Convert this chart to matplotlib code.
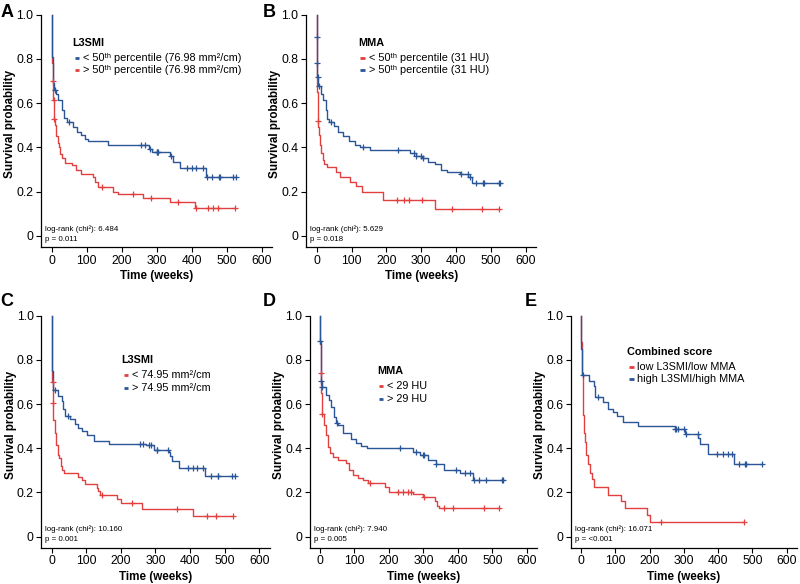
import numpy as np
import matplotlib
matplotlib.use("Agg")
import matplotlib.pyplot as plt

plt.rcParams['font.family'] = ['Liberation Sans', 'DejaVu Sans']

RED = '#E2403F'
BLUE = '#2A5597'

# Panel A - L3SMI (50th percentile)
a_blue_t = [0, 1, 2, 3, 4, 6, 14, 19, 30, 37, 44, 62, 72, 84, 96, 103, 162, 277, 287, 338, 347, 366, 441]
a_blue_s = [1.0, 0.90, 0.81, 0.74, 0.69, 0.66, 0.64, 0.615, 0.57, 0.535, 0.515, 0.49, 0.47, 0.455, 0.437, 0.427,
            0.41, 0.395, 0.378, 0.36, 0.332, 0.307, 0.266]
a_blue_c = [10, 51, 256, 266, 280, 300, 302, 304, 340, 388, 400, 412, 434, 445, 457, 478, 480, 519, 528]
a_red_t = [0, 1, 2, 3, 5, 7, 11, 14, 18, 20, 25, 30, 38, 58, 70, 85, 118, 125, 133, 175, 189, 261, 337, 409]
a_red_s = [1.0, 0.90, 0.78, 0.70, 0.616, 0.53, 0.50, 0.45, 0.42, 0.40, 0.37, 0.35, 0.33, 0.32, 0.30, 0.28,
           0.265, 0.245, 0.22, 0.20, 0.19, 0.171, 0.153, 0.127]
a_red_c = [4, 6, 8, 145, 232, 285, 361, 414, 447, 461, 476, 525]

# Panel B - MMA (50th percentile)
b_blue_t = [0, 0.5, 1, 2, 3, 12, 18, 26, 31, 36, 50, 60, 75, 92, 110, 125, 152, 268, 285, 301, 320, 339, 358,
            375, 411, 435, 445]
b_blue_s = [1.0, 0.90, 0.78, 0.72, 0.676, 0.643, 0.613, 0.568, 0.53, 0.515, 0.495, 0.47, 0.45, 0.428, 0.41, 0.40,
            0.388, 0.375, 0.36, 0.35, 0.335, 0.325, 0.30, 0.29, 0.28, 0.265, 0.237]
b_blue_c = [0.7, 1.5, 2.5, 7, 40, 134, 233, 280, 285, 300, 305, 415, 434, 439, 456, 476, 479, 522, 526]
b_red_t = [0, 1, 2, 3, 5, 7, 10, 13, 17, 22, 30, 55, 68, 95, 112, 130, 191, 340]
b_red_s = [1.0, 0.80, 0.65, 0.52, 0.49, 0.455, 0.41, 0.375, 0.345, 0.325, 0.31, 0.29, 0.265, 0.245, 0.225,
           0.197, 0.163, 0.121]
b_red_c = [3.5, 230, 251, 265, 301, 388, 474, 522]

# Panel C - L3SMI (74.95 mm2/cm)
c_blue_t = [0, 1, 2, 3, 19, 29, 34, 39, 53, 67, 77, 87, 101, 121, 165, 272, 296, 338, 342, 349, 368, 443]
c_blue_s = [1.0, 0.85, 0.75, 0.664, 0.638, 0.613, 0.576, 0.546, 0.531, 0.508, 0.493, 0.478, 0.459, 0.432,
            0.42, 0.415, 0.392, 0.383, 0.366, 0.343, 0.31, 0.276]
c_blue_c = [9, 46, 256, 265, 280, 288, 303, 305, 336, 393, 407, 420, 436, 459, 480, 482, 521, 531]
c_red_t = [0, 1, 2, 4, 5, 9, 13, 17, 21, 26, 30, 35, 77, 88, 95, 130, 135, 140, 190, 200, 262, 409]
c_red_s = [1.0, 0.85, 0.70, 0.604, 0.528, 0.468, 0.415, 0.37, 0.354, 0.32, 0.30, 0.287, 0.27, 0.256, 0.238,
           0.222, 0.205, 0.189, 0.169, 0.151, 0.125, 0.093]
c_red_c = [3, 4.5, 145, 232, 362, 448, 475, 525]

# Panel D - MMA (29 HU)
d_blue_t = [0, 0.5, 2, 5, 18, 25, 33, 40, 45, 52, 67, 91, 104, 120, 135, 270, 289, 313, 337, 361, 405, 443]
d_blue_s = [1.0, 0.887, 0.706, 0.676, 0.64, 0.618, 0.588, 0.543, 0.515, 0.505, 0.467, 0.444, 0.425, 0.41,
            0.40, 0.384, 0.369, 0.347, 0.328, 0.304, 0.286, 0.257]
d_blue_c = [1, 3, 7, 48, 233, 280, 298, 303, 337, 395, 420, 434, 448, 461, 481, 527, 532]
d_red_t = [0, 1, 2, 4, 5, 12, 17, 22, 28, 38, 53, 75, 85, 95, 110, 125, 140, 190, 200, 270, 300, 335, 340, 345]
d_red_s = [1.0, 0.87, 0.74, 0.65, 0.556, 0.505, 0.46, 0.408, 0.378, 0.362, 0.347, 0.332, 0.302, 0.279, 0.267,
           0.255, 0.241, 0.223, 0.204, 0.193, 0.181, 0.16, 0.14, 0.128]
d_red_c = [3, 6, 145, 225, 240, 255, 265, 301, 360, 385, 475, 520]

# Panel E - combined score
e_blue_t = [0, 1, 2, 3, 24, 38, 40, 64, 80, 94, 104, 122, 166, 273, 302, 341, 346, 370, 445]
e_blue_s = [1.0, 0.85, 0.78, 0.73, 0.705, 0.68, 0.63, 0.61, 0.58, 0.565, 0.545, 0.52, 0.503, 0.487, 0.465,
            0.445, 0.42, 0.375, 0.327]
e_blue_c = [5, 50, 275, 278, 282, 300, 305, 340, 398, 413, 428, 440, 462, 478, 482, 528]
e_red_t = [0, 1, 2, 3, 5, 7, 9, 12, 15, 20, 25, 32, 37, 80, 118, 128, 192, 200]
e_red_s = [1.0, 0.88, 0.78, 0.73, 0.64, 0.55, 0.47, 0.43, 0.37, 0.33, 0.29, 0.26, 0.225, 0.19, 0.16, 0.13,
           0.10, 0.065]
e_red_c = [232, 475]

chi_values = ['6.484', '5.629', '10.160', '7.940', '16.071']
p_values = ['0.011', '0.018', '0.001', '0.005', '<0.001']
legend_titles = ['L3SMI', 'MMA', 'L3SMI', 'MMA', 'Combined score']
legend_labels = [
    ['< 50ᵗʰ percentile (76.98 mm²/cm)', '> 50ᵗʰ percentile (76.98 mm²/cm)'],
    ['< 50ᵗʰ percentile (31 HU)', '> 50ᵗʰ percentile (31 HU)'],
    ['< 74.95 mm²/cm', '> 74.95 mm²/cm'],
    ['< 29 HU', '> 29 HU'],
    ['low L3SMI/low MMA', 'high L3SMI/high MMA'],
]
legend_colors = [[BLUE, RED], [RED, BLUE], [RED, BLUE], [RED, BLUE], [RED, BLUE]]
letters = ['A', 'B', 'C', 'D', 'E']

curves = [
    (a_blue_t, a_blue_s, a_blue_c, a_red_t, a_red_s, a_red_c),
    (b_blue_t, b_blue_s, b_blue_c, b_red_t, b_red_s, b_red_c),
    (c_blue_t, c_blue_s, c_blue_c, c_red_t, c_red_s, c_red_c),
    (d_blue_t, d_blue_s, d_blue_c, d_red_t, d_red_s, d_red_c),
    (e_blue_t, e_blue_s, e_blue_c, e_red_t, e_red_s, e_red_c),
]

# layout (figure fractions) and legend anchors (axes fractions)
positions = [
    [0.0513, 0.5771, 0.2888, 0.3978],
    [0.3828, 0.5771, 0.2874, 0.3978],
    [0.0516, 0.0621, 0.2855, 0.3973],
    [0.3871, 0.0621, 0.2842, 0.3973],
    [0.7134, 0.0621, 0.2829, 0.3973],
]
legend_pos = [(0.136, 0.879), (0.226, 0.879), (0.352, 0.809), (0.295, 0.762), (0.25, 0.845)]
letter_pos = [(0.009, 0.978), (0.336, 0.978), (0.009, 0.483), (0.336, 0.483), (0.663, 0.483)]


def km_step(ax, t, s, cens, color):
    end = max(max(cens), t[-1])
    tt = list(t) + [end]
    ss = list(s) + [s[-1]]
    ax.step(tt, ss, where='post', color=color, lw=1.0, clip_on=False, zorder=3)
    cens = np.array(cens)
    idx = np.searchsorted(np.array(t), cens, side='right') - 1
    ax.plot(cens, np.array(s)[idx], linestyle='none', marker='+', color=color,
            markersize=5, mew=0.9, clip_on=False, zorder=4)


fig = plt.figure(figsize=(8, 5.84), dpi=100)

for i in range(5):
    ax = fig.add_axes(positions[i])
    bt, bs, bc, rt, rs, rc = curves[i]
    km_step(ax, rt, rs, rc, RED)
    km_step(ax, bt, bs, bc, BLUE)

    ax.set_xlim(-30, 630)
    ax.set_ylim(-0.05, 1.0)
    ax.set_xticks([0, 100, 200, 300, 400, 500, 600])
    ax.set_yticks([0, 0.2, 0.4, 0.6, 0.8, 1.0])
    ax.set_yticklabels(['0', '0.2', '0.4', '0.6', '0.8', '1.0'])
    ax.tick_params(labelsize=8.8, length=3.5, width=0.8, colors='black', pad=2)
    for side in ['top', 'right']:
        ax.spines[side].set_visible(False)
    for side in ['left', 'bottom']:
        ax.spines[side].set_linewidth(0.9)
    ax.set_xlabel('Time (weeks)', fontsize=8.4, fontweight='bold')
    ax.set_ylabel('Survival probability', fontsize=8.4, fontweight='bold')
    ax.xaxis.set_label_coords(0.5, -0.1)
    ax.yaxis.set_label_coords(-0.108, 0.53)

    # legend drawn by hand
    lx, ly = legend_pos[i]
    ax.text(lx, ly, legend_titles[i], transform=ax.transAxes, fontsize=7.8, fontweight='bold',
            ha='left', va='center')
    for j in range(2):
        yy = ly - 0.064 - j * 0.055
        ax.plot([lx + 0.009, lx + 0.028], [yy, yy], transform=ax.transAxes,
                color=legend_colors[i][j], lw=2, solid_capstyle='butt', clip_on=False)
        ax.text(lx + 0.045, yy, legend_labels[i][j], transform=ax.transAxes, fontsize=7.8,
                ha='left', va='center')

    ax.text(0.018, 0.078, 'log-rank (chi²): ' + chi_values[i], transform=ax.transAxes,
            fontsize=5.7, ha='left', va='center')
    ax.text(0.018, 0.034, 'p = ' + p_values[i], transform=ax.transAxes,
            fontsize=5.7, ha='left', va='center')

    fig.text(letter_pos[i][0], letter_pos[i][1], letters[i], fontsize=13, fontweight='bold',
             ha='center', va='center')

fig.savefig('out.png', dpi=100)
